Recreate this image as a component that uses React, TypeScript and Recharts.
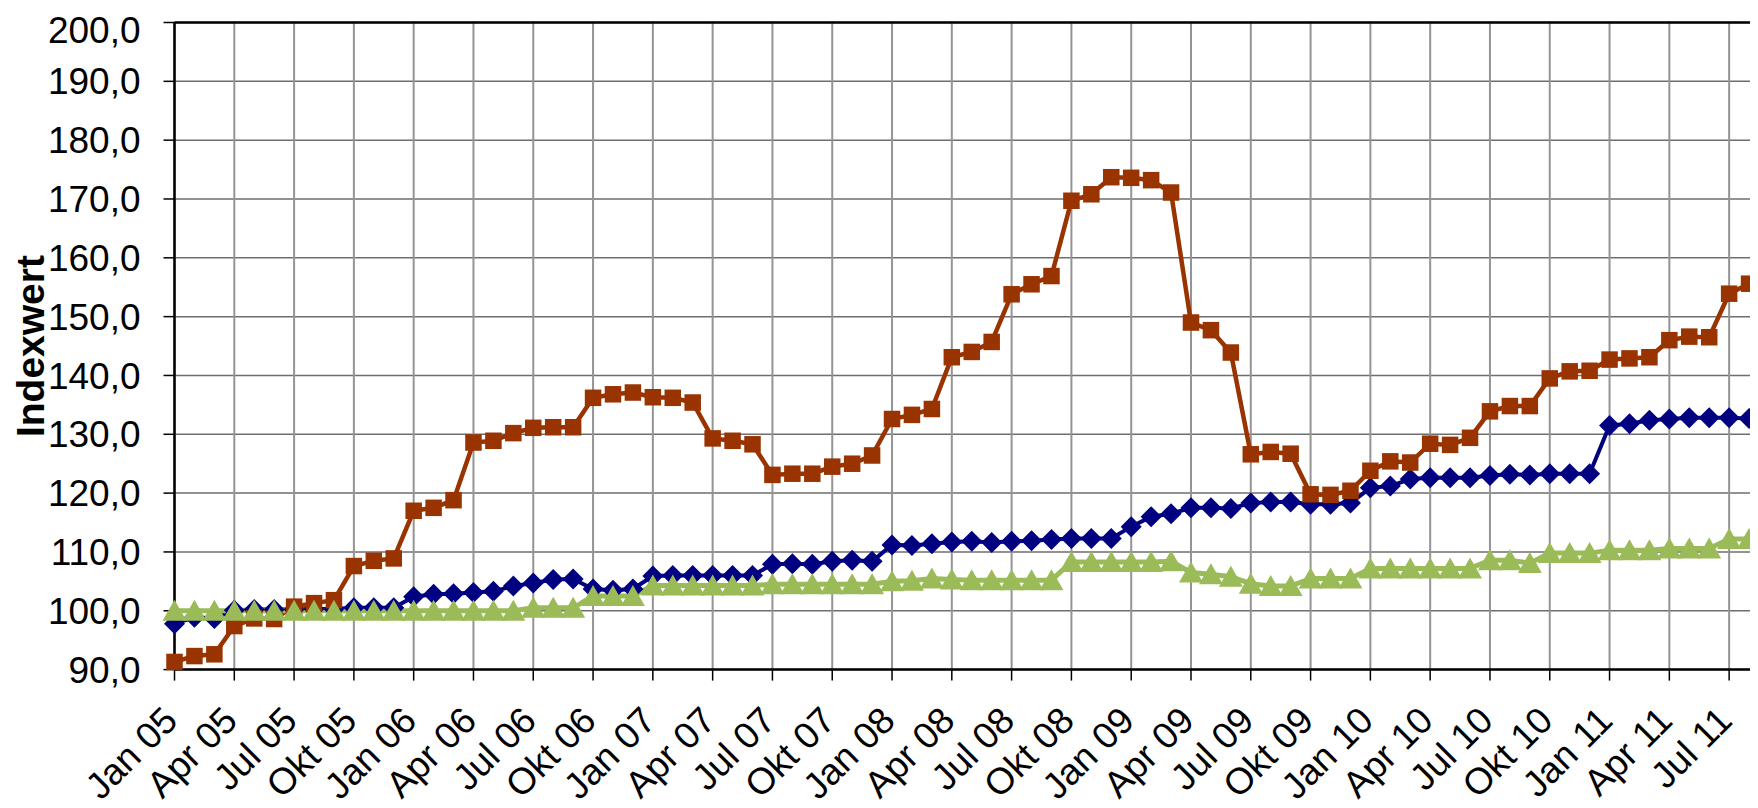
import React from "react";
import {
  CartesianGrid,
  Line,
  LineChart,
  ReferenceLine,
  XAxis,
  YAxis,
} from "recharts";

const monthNames = ["Jan", "Feb", "Mrz", "Apr", "Mai", "Jun", "Jul", "Aug", "Sep", "Okt", "Nov", "Dez"];
const years = ["05", "06", "07", "08", "09", "10", "11"];

// Jan 05 .. Sep 11
const months: string[] = years
  .flatMap((y) => monthNames.map((m) => `${m} ${y}`))
  .slice(0, 81);

const quarterTicks = months.filter((_, i) => i % 3 === 0);

const blueSeries = [
  97.8, 98.9, 98.7, 100.1, 100.2, 100.2, 100.2, 100.3, 100.3, 100.5, 100.5, 100.5,
  102.4, 102.8, 102.9, 103.1, 103.3, 104.2, 104.7, 105.3, 105.4, 103.7, 103.5, 103.7,
  105.9, 106.0, 106.0, 106.0, 106.0, 106.0, 107.9, 108.0, 107.9, 108.4, 108.6, 108.4,
  111.2, 111.1, 111.4, 111.7, 111.8, 111.6, 111.8, 111.9, 112.1, 112.3, 112.3, 112.3,
  114.3, 116.0, 116.5, 117.5, 117.5, 117.4, 118.3, 118.5, 118.5, 118.1, 118.1, 118.3,
  120.9, 121.2, 122.4, 122.6, 122.6, 122.6, 123.0, 123.2, 123.1, 123.3, 123.3, 123.3,
  131.5, 131.8, 132.4, 132.6, 132.8, 132.8, 132.8, 132.7, 132.8,
];

const redSeries = [
  91.3, 92.3, 92.6, 97.4, 98.7, 98.6, 100.7, 101.3, 101.8, 107.6, 108.5, 108.9,
  117.0, 117.5, 118.8, 128.6, 128.9, 130.2, 131.1, 131.2, 131.2, 136.2, 136.8, 137.1,
  136.3, 136.2, 135.4, 129.3, 128.9, 128.3, 123.1, 123.3, 123.3, 124.5, 125.0, 126.4,
  132.6, 133.3, 134.3, 143.1, 144.0, 145.7, 153.8, 155.5, 156.9, 169.7, 170.8, 173.7,
  173.6, 173.2, 171.1, 149.0, 147.7, 143.9, 126.6, 127.0, 126.7, 119.8, 119.7, 120.4,
  123.8, 125.4, 125.2, 128.4, 128.2, 129.4, 133.9, 134.8, 134.8, 139.5, 140.7, 140.8,
  142.7, 142.9, 143.1, 146.0, 146.6, 146.5, 153.9, 155.6, 155.5,
];

const greenSeries = [
  100.0, 100.0, 100.0, 100.0, 100.0, 100.0, 100.0, 100.0, 100.0, 100.0, 100.0, 100.0,
  100.0, 100.0, 100.0, 100.0, 100.0, 100.0, 100.5, 100.5, 100.5, 102.5, 102.5, 102.5,
  104.3, 104.3, 104.3, 104.3, 104.3, 104.3, 104.5, 104.5, 104.5, 104.5, 104.5, 104.5,
  105.0, 105.1, 105.5, 105.3, 105.2, 105.2, 105.2, 105.2, 105.2, 108.3, 108.3, 108.3,
  108.3, 108.3, 108.4, 106.5, 106.2, 105.8, 104.6, 104.2, 104.2, 105.5, 105.5, 105.5,
  107.2, 107.2, 107.2, 107.2, 107.2, 107.2, 108.6, 108.6, 108.1, 109.8, 109.8, 109.8,
  110.3, 110.3, 110.3, 110.6, 110.6, 110.6, 112.2, 112.2, 112.2,
];

const yTicks = [90, 100, 110, 120, 130, 140, 150, 160, 170, 180, 190, 200];

const data = months.map((m, i) => ({
  month: m,
  blue: blueSeries[i],
  red: redSeries[i],
  green: greenSeries[i],
}));

const BLUE = "#000080";
const RED = "#993300";
const GREEN = "#9BBB59";
const FONT = 37;

const Diamond = (p: any) => {
  const { cx, cy } = p;
  if (cx == null || cy == null) return null;
  const r = 10.5;
  return (
    <polygon
      key={`d-${p.index}`}
      points={`${cx},${cy - r} ${cx + r},${cy} ${cx},${cy + r} ${cx - r},${cy}`}
      fill={BLUE}
    />
  );
};

const Square = (p: any) => {
  const { cx, cy } = p;
  if (cx == null || cy == null) return null;
  const s = 16.5;
  return <rect key={`s-${p.index}`} x={cx - s / 2} y={cy - s / 2} width={s} height={s} fill={RED} />;
};

const Triangle = (p: any) => {
  const { cx, cy } = p;
  if (cx == null || cy == null) return null;
  return (
    <polygon
      key={`t-${p.index}`}
      points={`${cx},${cy - 11} ${cx + 12},${cy + 10} ${cx - 12},${cy + 10}`}
      fill={GREEN}
    />
  );
};

const MonthTick = ({ x, y, payload }: any) => (
  <g transform={`translate(${x + 5},${y})`}>
    <text textAnchor="end" transform="rotate(-45)" fontSize={FONT} fill="#000">
      {payload.value}
    </text>
  </g>
);

const fmt = (v: number) => v.toFixed(1).replace(".", ",");

export default function App() {
  return (
    <div
      style={{
        width: 1750,
        height: 800,
        marginBottom: -8,
        overflow: "hidden",
        fontFamily: "'Liberation Sans', Arial, sans-serif",
        background: "#fff",
      }}
    >
      <LineChart
        width={1770}
        height={800}
        data={data}
        margin={{ top: 14.5, right: 9, left: 0, bottom: 0 }}
      >
        <CartesianGrid vertical={false} stroke="#6e6e6e" strokeWidth={1.5} />
        <CartesianGrid horizontal={false} stroke="#949494" strokeWidth={2} />
        <XAxis
          dataKey="month"
          ticks={quarterTicks}
          interval={0}
          height={138.4}
          tick={<MonthTick />}
          tickSize={11}
          tickMargin={42}
          axisLine={{ stroke: "#000", strokeWidth: 2.5 }}
          tickLine={{ stroke: "#000", strokeWidth: 1.5 }}
        />
        <YAxis
          domain={[90, 200]}
          ticks={yTicks}
          width={166.5}
          tickFormatter={fmt}
          tickSize={11}
          tickMargin={23}
          tick={{ fontSize: FONT, fill: "#000" }}
          axisLine={{ stroke: "#000", strokeWidth: 2.5 }}
          tickLine={{ stroke: "#000", strokeWidth: 1.5 }}
          label={{
            value: "Indexwert",
            angle: -90,
            position: "insideLeft",
            offset: 22.5,
            style: { textAnchor: "middle", fontWeight: "bold", fontSize: 39, fill: "#000" },
          }}
        />
        <ReferenceLine y={200} stroke="#000" strokeWidth={2.5} />
        <Line
          dataKey="blue"
          stroke={BLUE}
          strokeWidth={4}
          dot={Diamond}
          activeDot={false}
          isAnimationActive={false}
        />
        <Line
          dataKey="red"
          stroke={RED}
          strokeWidth={4.5}
          dot={Square}
          activeDot={false}
          isAnimationActive={false}
        />
        <Line
          dataKey="green"
          stroke={GREEN}
          strokeWidth={5}
          dot={Triangle}
          activeDot={false}
          isAnimationActive={false}
        />
      </LineChart>
    </div>
  );
}
